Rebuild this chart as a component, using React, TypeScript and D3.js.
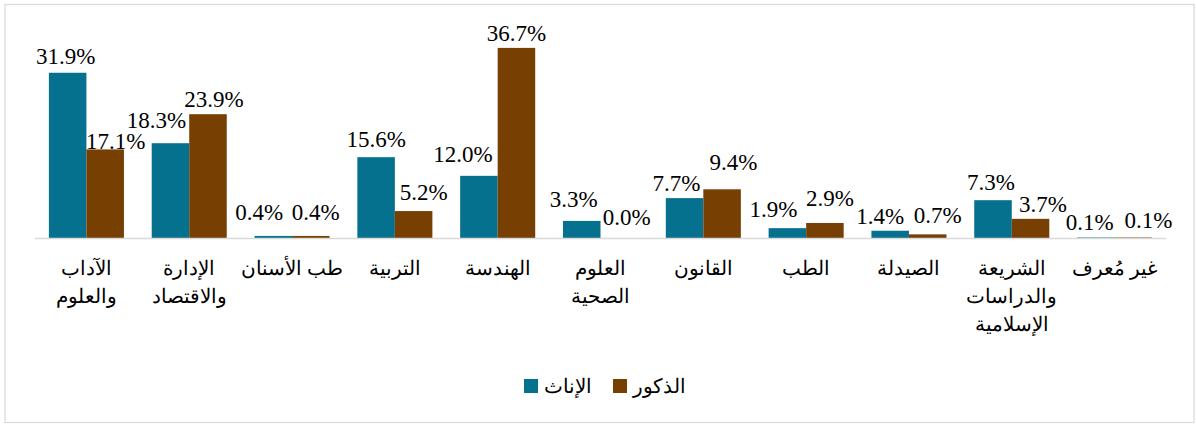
import * as d3 from 'd3'

const CATEGORIES = [
  ['الآداب', 'والعلوم'],
  ['الإدارة', 'والاقتصاد'],
  ['طب الأسنان'],
  ['التربية'],
  ['الهندسة'],
  ['العلوم', 'الصحية'],
  ['القانون'],
  ['الطب'],
  ['الصيدلة'],
  ['الشريعة', 'والدراسات', 'الإسلامية'],
  ['غير مُعرف'],
]
const FEMALE = [31.9, 18.3, 0.4, 15.6, 12.0, 3.3, 7.7, 1.9, 1.4, 7.3, 0.1]
const MALE = [17.1, 23.9, 0.4, 5.2, 36.7, 0.0, 9.4, 2.9, 0.7, 3.7, 0.1]

// hand-placed label nudges (dx from bar centre, gap above bar top), as in the source workbook
const FEMALE_NUDGE = [[-2, 9], [-14, 15], [-14, 16], [0, 10], [-16, 14], [-8, 14], [-8, 7], [-14, 11], [-10, 7], [-2, 10], [-6, 7.5]]
const MALE_NUDGE = [[10.5, 0.5], [6, 7], [5, 16], [10, 11], [0, 7], [7.5, 13], [11.5, 19], [5, 17], [10, 11], [12.5, 7], [15, 9.5]]

const SERIES = [
  { key: 'f', name: 'الإناث', color: '#05718f', values: FEMALE, nudge: FEMALE_NUDGE },
  { key: 'm', name: 'الذكور', color: '#773f02', values: MALE, nudge: MALE_NUDGE },
]

const W = 1196
const H = 425

export default function App() {
  const ids = CATEGORIES.map((_, i) => String(i))
  const x = d3.scaleBand().domain(ids).range([35, 1166]).padding(0)
  const xs = d3.scaleBand().domain(SERIES.map(s => s.key)).range([0, x.bandwidth()]).paddingInner(0).paddingOuter(0.37)
  const y = d3.scaleLinear().domain([0, 40]).range([238, 238 - 5.18 * 40])
  const fmt = (v: number) => v.toFixed(1) + '%'

  return (
    <svg width={W} height={H} style={{ position: 'absolute', left: 0, top: 0 }}>
      <rect x={5} y={4.5} width={1189} height={418} fill="#fff" stroke="#d9d9d9" strokeWidth={1.2} />
      {SERIES.map(s => (
        <g key={s.key}>
          {s.values.map((v, i) => (
            <rect key={i} x={x(ids[i])! + xs(s.key)!} width={xs.bandwidth()} y={y(v)} height={y(0) - y(v)} fill={s.color} />
          ))}
        </g>
      ))}
      <line x1={35} x2={1166} y1={y(0) + 0.5} y2={y(0) + 0.5} stroke="#d9d9d9" strokeWidth={1.5} />
      {SERIES.map(s => (
        <g key={s.key + 'l'} fontFamily="'Liberation Serif', 'Times New Roman', serif" fontSize={23} fill="#000" textAnchor="middle">
          {s.values.map((v, i) => (
            <text key={i} x={x(ids[i])! + xs(s.key)! + xs.bandwidth() / 2 + s.nudge[i][0]} y={y(v) - s.nudge[i][1]}>{fmt(v)}</text>
          ))}
        </g>
      ))}
      <g fontFamily="'Liberation Sans', Arial, sans-serif" fontSize={20} fill="#000" textAnchor="middle">
        {CATEGORIES.map((lines, i) => (
          <text key={i} x={x(ids[i])! + x.bandwidth() / 2} y={275}>
            {lines.map((l, j) => (
              <tspan key={j} x={x(ids[i])! + x.bandwidth() / 2} dy={j === 0 ? 0 : 28}>{l}</tspan>
            ))}
          </text>
        ))}
      </g>
      <g fontFamily="'Liberation Sans', Arial, sans-serif" fontSize={20} fill="#000">
        <rect x={524} y={379} width={14} height={14} fill={SERIES[0].color} />
        <text x={544} y={393}>{SERIES[0].name}</text>
        <rect x={613} y={379} width={14} height={14} fill={SERIES[1].color} />
        <text x={633} y={393}>{SERIES[1].name}</text>
      </g>
    </svg>
  )
}
